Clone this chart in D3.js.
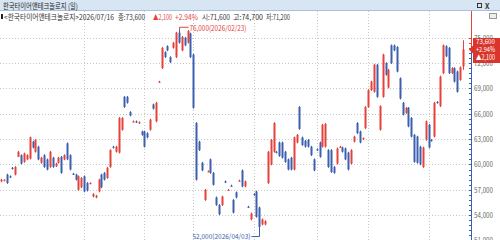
<!DOCTYPE html>
<html>
<head>
<meta charset="utf-8">
<script src="https://cdn.jsdelivr.net/npm/d3@7"></script>
<style>
  body { margin: 0; background: #fff; }
  svg { display: block; }
  text { font-family: "Noto Sans CJK KR", "Liberation Sans", sans-serif; }
</style>
</head>
<body>
<svg width="500" height="240"></svg>
<script>
// daily candles, oldest first
const opens = [58000,58100,58800,58600,59600,58800,60900,61100,60300,60600,60700,62700,61500,62100,60200,61100,60600,59700,60800,59800,
  60200,60900,60600,62500,61100,58900,58800,57000,57300,58600,57800,57700,56200,56100,56800,58800,59000,58400,59700,62100,
  61500,61400,64100,68000,68000,66200,65000,65100,64900,63900,63900,63700,64100,67100,65100,69700,71400,73300,74000,72700,
  73800,72700,75600,73500,75000,74400,75500,73000,64900,62700,60200,55800,59100,60600,59000,56100,55200,55200,58000,56900,
  57500,55800,56700,58000,59300,57400,55000,53500,56500,56800,54900,52900,52900,57800,60000,61500,61500,62600,62600,61500,
  60600,60800,59400,62600,66800,63200,62800,62900,62100,60600,61800,62600,62100,62100,61700,61700,59700,60100,62000,62000,
  61900,61400,60100,62700,64900,63900,63000,64300,66800,68800,68600,71800,64100,68000,72000,69100,74100,74100,73900,70200,
  67300,66100,66700,65500,63500,63300,62100,59700,62900,64700,62900,63300,67400,66900,70800,74000,73800,70800,71400,71000,
  70000,71600];
const highs = [58300,58200,58900,58700,59700,59800,61600,61200,61400,61200,63300,62800,63000,62200,60900,61200,60700,61600,60900,60200,
  60900,61000,61200,62600,61200,59000,58900,58700,58500,58700,57900,57900,56600,56400,58300,58900,59100,59700,61800,62200,
  62200,65600,65600,68100,68100,66300,65200,65200,65100,64000,64000,63800,65400,67200,67400,69900,73900,73400,74100,72800,
  74500,75700,76000,75200,75100,75900,75600,73100,65000,62800,60300,57100,59300,60700,59100,56200,55300,56300,58100,57100,
  57600,55900,56800,58200,59400,58100,55100,54300,56600,56900,55000,53600,53400,61600,63000,65000,61600,62700,62700,61600,
  60700,60900,63300,63600,66900,63300,62900,63000,62200,60700,61900,62700,64800,64900,61800,61800,59800,62000,62200,62100,
  62000,61500,61800,63400,65000,64000,63200,66900,68900,69900,71900,71900,67000,73100,72100,71300,74200,74200,74000,70300,
  67400,66800,66800,65600,63600,63400,62200,62100,65200,64800,63000,67400,67500,70500,74200,74100,73900,71500,71500,71100,
  71600,74700];
const lows = [57900,58000,57700,58400,59400,58700,60900,60000,60200,60500,60600,61900,61400,60500,60100,59600,59300,59600,59600,59700,
  60100,58900,60500,60500,59300,58800,58100,56900,57200,56700,56800,57700,56100,56000,56700,57200,58100,58300,59600,61900,
  61400,61300,64000,66700,67200,65700,65000,64900,64800,63400,62000,63100,64000,66500,65000,69700,71300,72600,73400,72000,
  73700,72600,74300,73400,74000,74300,72600,66600,58100,61600,59200,55700,59100,58900,57500,55100,54000,55100,57800,56900,
  57400,54200,56000,58000,57300,57300,54900,53400,56300,53700,52000,52800,52800,57700,59900,61400,61300,60900,60700,60200,
  59300,59300,59300,62500,64100,62200,62000,62000,61000,59200,61600,60800,62000,62000,59600,59000,58900,60000,62000,61400,
  60500,59300,60000,62600,63600,62500,62900,64200,66700,68700,68500,67900,64000,67900,70500,69000,71900,73400,70900,67700,
  65800,66000,64400,63200,60200,60100,59900,59600,62800,61900,62700,63200,67200,66800,70700,72700,70700,70700,69700,68500,
  69900,71200];
const closes = [58200,58200,57800,58500,59500,59700,61500,60100,61300,61100,63200,62000,62900,60600,60800,59700,59400,61500,59700,60100,
  60800,59000,61100,60600,59400,58800,58200,58600,58400,56800,56900,57800,56500,56300,58200,57300,58200,59600,61700,62000,
  62100,65500,65500,66800,67300,65800,65100,65000,65000,63500,62100,63200,65300,66600,67300,69800,73800,72700,73500,72100,
  74400,75600,74400,75100,74100,75800,72700,66700,58200,61700,59300,57000,59200,59000,57600,55200,54100,56200,57900,57000,
  57400,54300,56100,58100,57400,58000,54900,54200,56400,53800,52600,53500,53300,61500,62900,64900,61400,61000,60800,60300,
  59400,59400,63200,63500,64200,62300,62100,62100,61100,59300,61700,60900,64700,64800,59700,59100,59000,61900,62100,61500,
  60600,59400,61700,63300,63700,62600,63100,66800,68800,69800,71800,68000,66900,73000,70600,71200,72000,73500,71000,67800,
  65900,66700,64500,63300,60300,60200,60000,62000,65100,62000,62800,67300,67300,70400,74100,72800,70800,71400,69800,68600,
  71500,73600];

const yTicks = [51000, 54000, 57000, 60000, 63000, 66000, 69000, 72000, 75000];
const monthIdx = [29, 50, 67, 88, 110, 128, 149];   // first candle of each month

const titleText = "한국타이어앤테크놀로지 (일)";
const infoParts = ["<한국타이어앤테크놀로지>2026/07/16", "종:73,600", "▲2,100", "+2.94%", "시:71,600", "고:74,700", "저:71,200"];
const infoX = [4, 118, 153, 175, 202, 233, 266];
const infoW = [110, 27, 19, 23, 28, 30, 24];
const priceLines = ["73,600", "+2.94%", "▲2,100"];
const hiIdx = 62, hiText = "76,000(2026/02/23)";
const loIdx = 90, loText = "52,000(2026/04/03)";

const RED = "#e4423a", BLUE = "#3c60b0";
const svg = d3.select("svg");

const x = d3.scaleLinear().domain([0, opens.length - 1]).range([1, 463]);
const y = d3.scaleLinear().domain([51000, 75000]).range([240.5, 37.7]);
const axisX = 471;

// header
svg.append("rect").attr("x", 0).attr("y", 0).attr("width", 500).attr("height", 11).attr("fill", "#d8e6f4");
svg.append("line").attr("x1", 0).attr("x2", 500).attr("y1", 10.5).attr("y2", 10.5).attr("stroke", "#a8c2dd");
svg.append("text").attr("x", 3).attr("y", 8.5).attr("font-size", 8).attr("fill", "#222")
  .attr("textLength", 75).attr("lengthAdjust", "spacingAndGlyphs").text(titleText);
svg.append("rect").attr("x", 477.5).attr("y", 3.5).attr("width", 4).attr("height", 4)
  .attr("fill", "none").attr("stroke", "#333");
svg.append("text").attr("x", 485).attr("y", 8.5).attr("font-size", 7).attr("font-weight", "bold").attr("fill", "#333").text("X");

// grid
const grid = svg.append("g").attr("stroke", "#c8c8c8").attr("stroke-dasharray", "1,2");
grid.selectAll("line.h").data(yTicks).join("line")
  .attr("x1", 0).attr("x2", axisX).attr("y1", d => Math.round(y(d)) + 0.5).attr("y2", d => Math.round(y(d)) + 0.5);
grid.selectAll("line.v").data(monthIdx).join("line")
  .attr("x1", d => Math.round(x(d)) + 0.5).attr("x2", d => Math.round(x(d)) + 0.5)
  .attr("y1", 11).attr("y2", 240);

// info line
svg.append("rect").attr("x", 1).attr("y", 14).attr("width", 2).attr("height", 5).attr("fill", "#222");
infoParts.forEach((t, i) => {
  svg.append("text").attr("x", infoX[i]).attr("y", 19.5).attr("font-size", 7.5)
    .attr("fill", i === 2 || i === 3 ? RED : "#333")
    .attr("textLength", infoW[i]).attr("lengthAdjust", "spacingAndGlyphs").text(t);
});
svg.append("rect").attr("x", 489.5).attr("y", 13.5).attr("width", 7).attr("height", 5)
  .attr("fill", "#eee").attr("stroke", "#999");

// candles
const idx = d3.range(opens.length);
const colorOf = i => closes[i] > opens[i] ? RED : closes[i] < opens[i] ? BLUE
  : (i > 0 && closes[i] < closes[i - 1] ? BLUE : RED);
const candles = svg.append("g");
candles.selectAll("line").data(idx).join("line")
  .attr("x1", i => Math.round(x(i)) + 0.5).attr("x2", i => Math.round(x(i)) + 0.5)
  .attr("y1", i => y(highs[i])).attr("y2", i => y(lows[i]))
  .attr("stroke", colorOf);
candles.selectAll("rect").data(idx).join("rect")
  .attr("x", i => Math.round(x(i)) - 0.5).attr("width", 2)
  .attr("y", i => y(Math.max(opens[i], closes[i])))
  .attr("height", i => Math.max(1.2, Math.abs(y(opens[i]) - y(closes[i]))))
  .attr("fill", colorOf);

// high / low markers
const hx = Math.round(x(hiIdx)) + 0.5, hy = y(highs[hiIdx]) - 1;
svg.append("path").attr("d", `M${hx},${hy + 1}V${hy - 1}H${hx + 9}`).attr("fill", "none").attr("stroke", RED);
svg.append("text").attr("x", hx + 10).attr("y", hy + 3).attr("font-size", 7.5).attr("fill", RED)
  .attr("textLength", 57).attr("lengthAdjust", "spacingAndGlyphs").text(hiText);
const lx = Math.round(x(loIdx)) + 0.5, ly = y(lows[loIdx]);
svg.append("path").attr("d", `M${lx},${ly}V${ly + 4.5}H${lx - 8}`).attr("fill", "none").attr("stroke", BLUE);
svg.append("text").attr("x", lx - 9).attr("y", ly + 7).attr("font-size", 7).attr("fill", BLUE)
  .attr("text-anchor", "end")
  .attr("textLength", 58).attr("lengthAdjust", "spacingAndGlyphs").text(loText);

// y axis
const lastY = y(closes[closes.length - 1]);
svg.append("line").attr("x1", axisX + 0.5).attr("x2", axisX + 0.5).attr("y1", 11).attr("y2", lastY).attr("stroke", RED);
svg.append("line").attr("x1", axisX + 0.5).attr("x2", axisX + 0.5).attr("y1", lastY).attr("y2", 240).attr("stroke", BLUE);
svg.append("g").selectAll("line").data(d3.range(51000, 75001, 600)).join("line")
  .attr("x1", axisX - 2).attr("x2", axisX)
  .attr("y1", d => Math.round(y(d)) + 0.5).attr("y2", d => Math.round(y(d)) + 0.5)
  .attr("stroke", d => y(d) < lastY ? RED : BLUE);

const yAxis = svg.append("g").attr("transform", `translate(${axisX + 1},0)`)
  .call(d3.axisRight(y).tickValues(yTicks).tickSize(0).tickPadding(2).tickFormat(d3.format(",")));
yAxis.select(".domain").remove();
yAxis.selectAll("text").attr("font-size", 7.5).attr("fill", "#666")
  .attr("font-family", "Liberation Sans, sans-serif")
  .attr("textLength", 19).attr("lengthAdjust", "spacingAndGlyphs");

// current price box
const by0 = 38, by1 = 63;
svg.append("path")
  .attr("d", `M${axisX - 2},${lastY}L${axisX + 2},${lastY - 4}V${by0}H500V${by1}H${axisX + 2}V${lastY + 4}Z`)
  .attr("fill", "#d9352c");
priceLines.forEach((t, i) => {
  svg.append("text").attr("x", 476).attr("y", 44 + i * 8).attr("font-size", 7).attr("fill", "#fff")
    .attr("font-family", "Liberation Sans, sans-serif")
    .attr("textLength", 19).attr("lengthAdjust", "spacingAndGlyphs").text(t);
});
</script>
</body>
</html>
